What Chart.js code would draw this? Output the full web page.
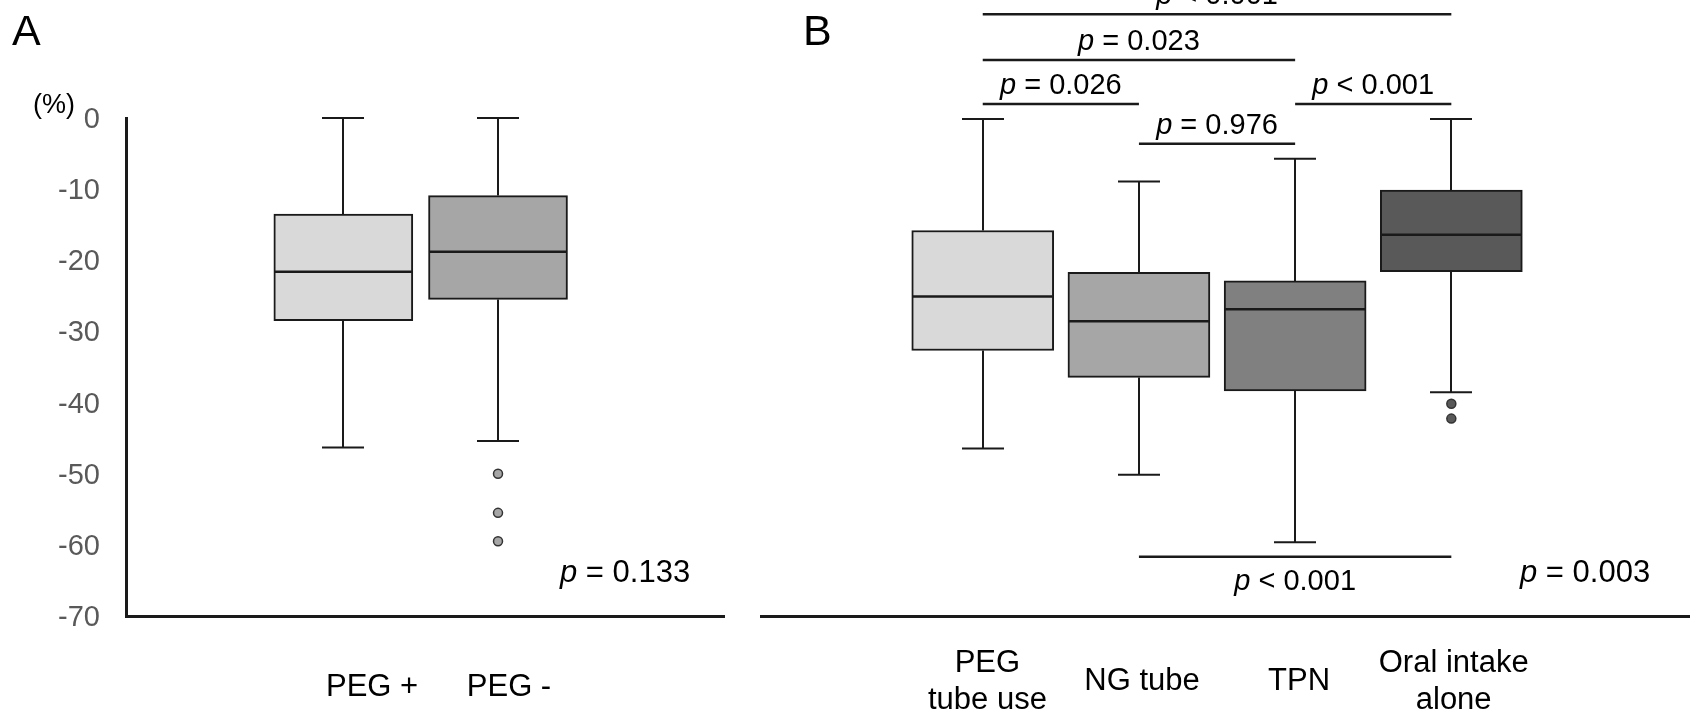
<!DOCTYPE html>
<html>
<head>
<meta charset="utf-8">
<script src="https://cdn.jsdelivr.net/npm/chart.js@4.4.1/dist/chart.umd.min.js"></script>
<style>
html,body{margin:0;padding:0;background:#fff;width:1690px;height:717px;overflow:hidden;}
#wrapA{position:absolute;left:0;top:0;width:760px;height:717px;}
#wrapB{position:absolute;left:760px;top:0;width:930px;height:717px;}
canvas{display:block;}
</style>
</head>
<body>
<div id="wrapA"><canvas id="chartA" width="760" height="717"></canvas></div>
<div id="wrapB"><canvas id="chartB" width="930" height="717"></canvas></div>
<script>
// ---------------- Panel A data ----------------
const categoriesA = ['PEG +', 'PEG -'];
const whiskerLowA = [-46.3, -45.4];
const q1A = [-28.5, -25.5];
const medianA = [-21.6, -18.8];
const q3A = [-13.5, -10.9];
const whiskerHighA = [0, 0];
const outliersA = [[], [-50.0, -55.5, -59.5]];
const pValueA = '= 0.133';

// ---------------- Panel B data ----------------
const categoriesB = [['PEG', 'tube use'], 'NG tube', 'TPN', ['Oral intake', 'alone']];
const whiskerLowB = [-46.4, -50.1, -59.6, -38.5];
const q1B = [-32.6, -36.4, -38.3, -21.5];
const medianB = [-25.0, -28.5, -26.8, -16.3];
const q3B = [-15.7, -21.6, -22.8, -10.0];
const whiskerHighB = [0, -8.8, -5.6, 0];
const outliersB = [[], [], [], [-40.1, -42.2]];
const pValueB = '= 0.003';

// pairwise comparisons in panel B (category indices and p-values)
const pairFrom = [0, 0, 0, 2, 1, 1];
const pairTo = [3, 2, 1, 3, 2, 3];
const pairP = ['< 0.001', '= 0.023', '= 0.026', '< 0.001', '= 0.976', '< 0.001'];

// shared y axis ticks
const yTickValues = [0, -10, -20, -30, -40, -50, -60, -70];
const yTickLabels = ['0', '-10', '-20', '-30', '-40', '-50', '-60', '-70'];

// ---------------- styling ----------------
const FONT = "'Liberation Sans', Arial, Helvetica, sans-serif";
const LINE = '#1a1a1a';

function drawP(ctx, x, y, rest, size, align) {
  ctx.save();
  ctx.fillStyle = '#000';
  ctx.textBaseline = 'alphabetic';
  ctx.textAlign = 'left';
  ctx.font = 'italic ' + size + 'px ' + FONT;
  const wp = ctx.measureText('p').width;
  ctx.font = size + 'px ' + FONT;
  const wr = ctx.measureText(' ' + rest).width;
  const sx = align === 'center' ? x - (wp + wr) / 2 : x;
  ctx.font = 'italic ' + size + 'px ' + FONT;
  ctx.fillText('p', sx, y);
  ctx.font = size + 'px ' + FONT;
  ctx.fillText(' ' + rest, sx + wp, y);
  ctx.restore();
}

function seg(ctx, x1, y1, x2, y2) {
  ctx.beginPath();
  ctx.moveTo(x1, y1);
  ctx.lineTo(x2, y2);
  ctx.stroke();
}

function makeBoxChart(canvasId, cfg) {
  const boxData = cfg.categories.map((_, i) => ({ x: i + 1, y: [cfg.q1[i], cfg.q3[i]] }));
  const outlierData = [];
  cfg.outliers.forEach((arr, i) => arr.forEach(v => outlierData.push({ x: i + 1, y: v })));

  const parts = {
    id: 'boxParts',
    beforeDatasetsDraw(chart) {
      const ctx = chart.ctx, xs = chart.scales.x, ys = chart.scales.y;
      ctx.save();
      ctx.strokeStyle = LINE;
      ctx.lineWidth = 2;
      ctx.lineCap = 'butt';
      cfg.categories.forEach((_, i) => {
        const cx = Math.round(xs.getPixelForValue(i + 1));
        const yHi = ys.getPixelForValue(cfg.high[i]);
        const yLo = ys.getPixelForValue(cfg.low[i]);
        const yQ1 = ys.getPixelForValue(cfg.q1[i]);
        const yQ3 = ys.getPixelForValue(cfg.q3[i]);
        seg(ctx, cx, yQ3, cx, yHi);
        seg(ctx, cx, yQ1, cx, yLo);
        seg(ctx, cx - cfg.capHalf, yHi, cx + cfg.capHalf, yHi);
        seg(ctx, cx - cfg.capHalf, yLo, cx + cfg.capHalf, yLo);
      });
      ctx.restore();
    },
    afterDatasetsDraw(chart) {
      const ctx = chart.ctx, xs = chart.scales.x, ys = chart.scales.y;
      ctx.save();
      ctx.strokeStyle = LINE;
      ctx.lineWidth = 2.5;
      cfg.categories.forEach((_, i) => {
        const cx = xs.getPixelForValue(i + 1);
        const ym = ys.getPixelForValue(cfg.median[i]);
        seg(ctx, cx - cfg.boxWidth / 2 + 1, ym, cx + cfg.boxWidth / 2 - 1, ym);
      });
      ctx.restore();
    },
    afterDraw(chart) {
      cfg.extra(chart);
    }
  };

  return new Chart(document.getElementById(canvasId), {
    type: 'bar',
    data: {
      datasets: [
        {
          type: 'bar',
          data: boxData,
          backgroundColor: cfg.colors,
          borderColor: LINE,
          borderWidth: 2,
          borderSkipped: false,
          barThickness: cfg.boxWidth,
          order: 2
        },
        {
          type: 'line',
          data: outlierData,
          showLine: false,
          pointRadius: 4.5,
          pointBackgroundColor: cfg.outlierColor,
          pointBorderColor: '#333333',
          pointBorderWidth: 1.5,
          order: 1
        }
      ]
    },
    options: {
      responsive: false,
      animation: false,
      events: [],
      layout: { padding: cfg.padding, autoPadding: false },
      plugins: { legend: { display: false }, tooltip: { enabled: false } },
      scales: {
        x: {
          type: 'linear',
          bounds: 'data',
          offset: false,
          min: cfg.xMin,
          max: cfg.xMax,
          grid: { display: false },
          border: { display: true, color: LINE, width: 3 },
          // tick labels sit slightly right of the box centres, as in the original figure
          afterBuildTicks: s => { s.ticks = cfg.categories.map((_, i) => ({ value: i + 1 + cfg.labelShift[i] })); },
          afterFit: s => { s.height = 101; },
          ticks: {
            autoSkip: false,
            maxRotation: 0,
            minRotation: 0,
            padding: cfg.xPad,
            crossAlign: cfg.crossAlign,
            color: '#000000',
            font: { family: FONT, size: 31, lineHeight: 1.22 },
            callback: (v, i) => cfg.categories[i]
          }
        },
        y: {
          type: 'linear',
          display: cfg.showY,
          bounds: 'data',
          min: -70,
          max: 0,
          grid: { display: false },
          border: { display: true, color: LINE, width: 3 },
          afterBuildTicks: s => { s.ticks = yTickValues.map(v => ({ value: v })); },
          afterFit: s => { s.width = cfg.showY ? 126 : 0; },
          ticks: {
            padding: 18,
            labelOffset: 2,
            color: '#595959',
            font: { family: FONT, size: 29 },
            callback: v => yTickLabels[yTickValues.indexOf(v)]
          }
        }
      }
    },
    plugins: [parts]
  });
}

// ---------------- Panel A ----------------
makeBoxChart('chartA', {
  categories: categoriesA,
  low: whiskerLowA, q1: q1A, median: medianA, q3: q3A, high: whiskerHighA,
  outliers: outliersA,
  colors: ['#d9d9d9', '#a6a6a6'],
  outlierColor: '#a6a6a6',
  boxWidth: 139,
  capHalf: 21,
  xMin: -0.405, xMax: 3.461,
  padding: { top: 118, right: 36, bottom: 0, left: 0 },
  xPad: 45,
  labelShift: [0.186, 0.071],
  crossAlign: 'near',
  showY: true,
  extra(chart) {
    const ctx = chart.ctx;
    ctx.save();
    ctx.fillStyle = '#000';
    ctx.textAlign = 'left';
    ctx.textBaseline = 'alphabetic';
    ctx.font = '43px ' + FONT;
    ctx.fillText('A', 12, 45);
    ctx.font = '27px ' + FONT;
    ctx.textBaseline = 'middle';
    ctx.fillText('(%)', 33, 106);
    ctx.restore();
    drawP(ctx, 560, 582, pValueA, 31, 'left');
  }
});

// ---------------- Panel B ----------------
const bracketLevels = [14.75, 8.3, 2.1, 2.1, -3.5, -61.65];
const bracketBelow = [false, false, false, false, false, true];

makeBoxChart('chartB', {
  categories: categoriesB,
  low: whiskerLowB, q1: q1B, median: medianB, q3: q3B, high: whiskerHighB,
  outliers: outliersB,
  colors: ['#d9d9d9', '#a6a6a6', '#808080', '#595959'],
  outlierColor: '#595959',
  boxWidth: 142,
  capHalf: 21,
  xMin: -0.426, xMax: 5.528,
  padding: { top: 119, right: 0, bottom: 0, left: 0 },
  xPad: 39,
  labelShift: [0.03, 0.02, 0.025, 0.015],
  crossAlign: 'center',
  showY: false,
  extra(chart) {
    const ctx = chart.ctx, xs = chart.scales.x, ys = chart.scales.y;
    ctx.save();
    ctx.fillStyle = '#000';
    ctx.textAlign = 'left';
    ctx.textBaseline = 'alphabetic';
    ctx.font = '43px ' + FONT;
    ctx.fillText('B', 43, 45);
    ctx.restore();
    ctx.save();
    ctx.strokeStyle = LINE;
    ctx.lineWidth = 2.5;
    pairFrom.forEach((f, k) => {
      const x1 = xs.getPixelForValue(f + 1);
      const x2 = xs.getPixelForValue(pairTo[k] + 1);
      const y = ys.getPixelForValue(bracketLevels[k]);
      seg(ctx, x1, y, x2, y);
      const ty = bracketBelow[k] ? y + 33 : y - 10;
      drawP(ctx, (x1 + x2) / 2, ty, pairP[k], 29, 'center');
    });
    ctx.restore();
    drawP(ctx, 760, 582, pValueB, 31, 'left');
  }
});
</script>
</body>
</html>
